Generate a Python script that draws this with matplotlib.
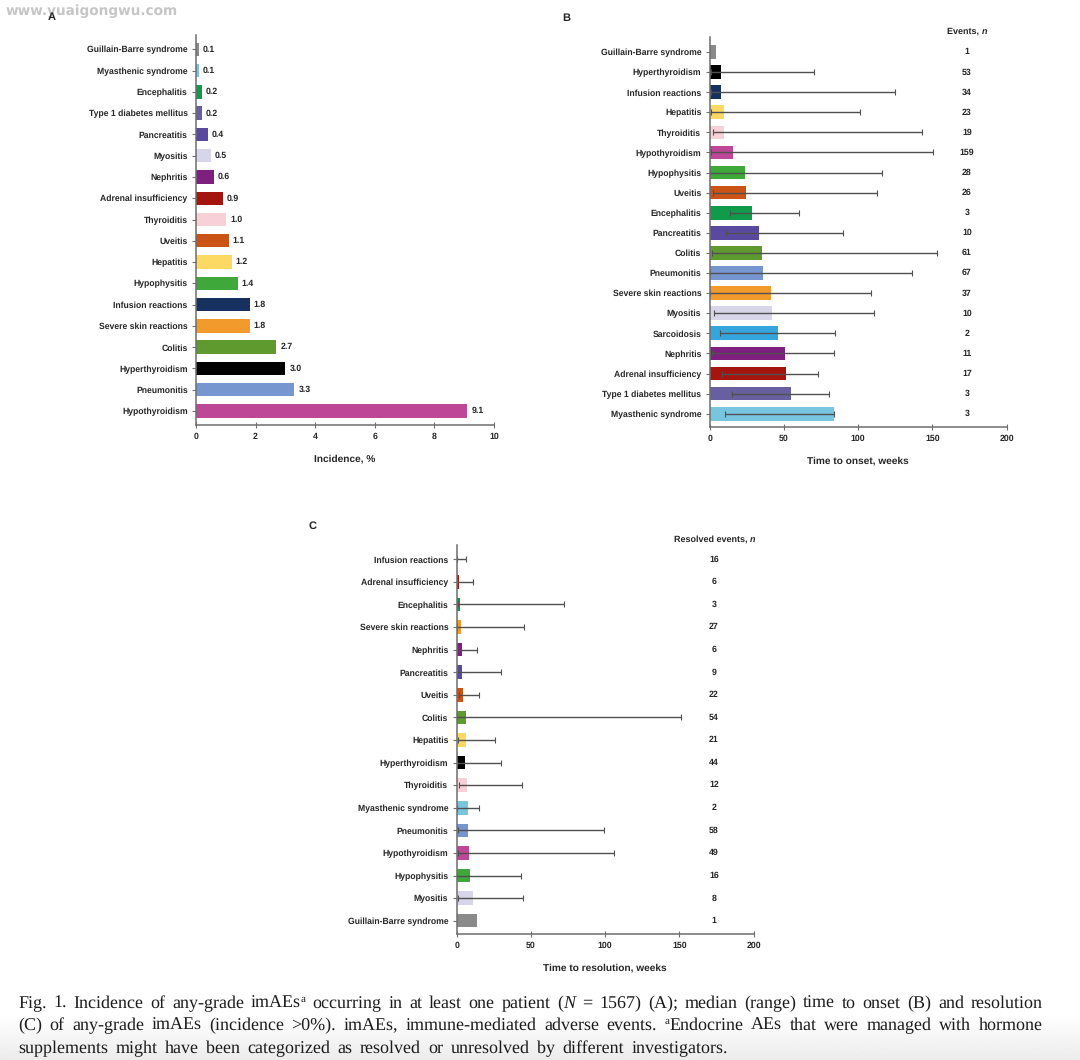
import numpy as np
import matplotlib
matplotlib.use("Agg")
import matplotlib.pyplot as plt

W, H = 1080, 1060
SANS = "Liberation Sans"
SERIF = "Liberation Serif"
TXT = "#262626"
AXC = "#6e6e6e"
FS = 6.35
plt.rcParams["font.family"] = SANS
plt.rcParams["text.hinting"] = "no_hinting"

# ---------- data ----------
a_names = ["Guillain-Barre syndrome", "Myasthenic syndrome", "Encephalitis", "Type 1 diabetes mellitus",
           "Pancreatitis", "Myositis", "Nephritis", "Adrenal insufficiency", "Thyroiditis", "Uveitis",
           "Hepatitis", "Hypophysitis", "Infusion reactions", "Severe skin reactions", "Colitis",
           "Hyperthyroidism", "Pneumonitis", "Hypothyroidism"]
a_values = [0.1, 0.1, 0.2, 0.2, 0.4, 0.5, 0.6, 0.9, 1.0, 1.1, 1.2, 1.4, 1.8, 1.8, 2.7, 3.0, 3.3, 9.1]

b_names = ["Guillain-Barre syndrome", "Hyperthyroidism", "Infusion reactions", "Hepatitis", "Thyroiditis",
           "Hypothyroidism", "Hypophysitis", "Uveitis", "Encephalitis", "Pancreatitis", "Colitis", "Pneumonitis",
           "Severe skin reactions", "Myositis", "Sarcoidosis", "Nephritis", "Adrenal insufficiency",
           "Type 1 diabetes mellitus", "Myasthenic syndrome"]
b_median = [4, 7.4, 7.9, 9.4, 9.4, 16, 23.6, 24.5, 28.3, 33.4, 35, 36, 41.3, 41.8, 45.8, 50.5, 51.6, 55, 83.7]
b_low = [None, 1, 1, 1, 2.5, 1, 0.5, 2, 14, 11, 1.5, 0.3, 0.5, 2.7, 7, 1.8, 8.5, 15, 10.5]
b_high = [None, 70.5, 125, 101, 143, 150.6, 116, 112.5, 60.4, 90, 152.9, 136, 108.4, 110.4, 84.4, 84, 73, 80, 84]
b_events = [1, 53, 34, 23, 19, 159, 28, 26, 3, 10, 61, 67, 37, 10, 2, 11, 17, 3, 3]

c_names = ["Infusion reactions", "Adrenal insufficiency", "Encephalitis", "Severe skin reactions", "Nephritis",
           "Pancreatitis", "Uveitis", "Colitis", "Hepatitis", "Hyperthyroidism", "Thyroiditis",
           "Myasthenic syndrome", "Pneumonitis", "Hypothyroidism", "Hypophysitis", "Myositis",
           "Guillain-Barre syndrome"]
c_median = [0.3, 1.8, 2.5, 3, 3.4, 3.8, 4, 6, 6, 5.9, 6.7, 7.4, 7.9, 8.3, 9, 11, 13.5]
c_low = [0.1, 0.5, 1, 0.3, 1.8, 0.5, 1.5, 0.3, 1, 0.5, 1.8, 0.5, 0.7, 0.7, 0.5, 1, None]
c_high = [6, 10.8, 72.3, 45.6, 14, 30, 15, 151, 26, 30, 44, 15, 99, 105.7, 43, 44.4, None]
c_events = [16, 6, 3, 27, 6, 9, 22, 54, 21, 44, 12, 2, 58, 49, 16, 8, 1]

colors = {
    "Guillain-Barre syndrome": "#8a8a8a", "Myasthenic syndrome": "#78c5e0", "Encephalitis": "#0f9b4a",
    "Type 1 diabetes mellitus": "#675f9f", "Pancreatitis": "#5a4a9f", "Myositis": "#d6d5ea",
    "Nephritis": "#7f1f7f", "Adrenal insufficiency": "#a5150f", "Thyroiditis": "#f7d0d8",
    "Uveitis": "#cc5316", "Hepatitis": "#fbd962", "Hypophysitis": "#3ea93a", "Infusion reactions": "#16305f",
    "Severe skin reactions": "#f39a2d", "Colitis": "#5e9a2e", "Hyperthyroidism": "#000000",
    "Pneumonitis": "#7596cf", "Hypothyroidism": "#bf4797", "Sarcoidosis": "#35a6dd",
}

# ---------- helpers ----------
fig = plt.figure(figsize=(W / 100, H / 100), dpi=100, facecolor="white")


def panel(x0, x1, top, bottom, first, last, n, xmax, xticks, xlabel, labelpad):
    ax = fig.add_axes([x0 / W, 1 - bottom / H, (x1 - x0) / W, (bottom - top) / H])
    step = (last - first) / (n - 1)
    ax.set_xlim(0, xmax)
    ax.set_ylim(n - 1 + (bottom - last) / step, -(first - top) / step)
    for s in ("top", "right"):
        ax.spines[s].set_visible(False)
    for s in ("left", "bottom"):
        ax.spines[s].set_color(AXC)
        ax.spines[s].set_linewidth(1.1)
    ax.set_xticks(xticks)
    ax.tick_params(axis="x", direction="inout", length=4, width=0.8, color=AXC, pad=3.2,
                   labelsize=FS, labelcolor=TXT)
    ax.tick_params(axis="y", direction="out", length=3, width=0.8, color=AXC, pad=3.0,
                   labelsize=6.2, labelcolor=TXT)
    for lab in ax.get_xticklabels():
        lab.set_fontweight("bold")
    ax.set_xlabel(xlabel, fontsize=7.25, fontweight="bold", color=TXT, labelpad=labelpad)
    ax.patch.set_alpha(0)
    return ax


def set_names(ax, names):
    ax.set_yticks(range(len(names)))
    ax.set_yticklabels(names, fontweight="bold")


def range_panel(ax, names, median, low, high, height):
    ys = np.arange(len(names))
    ax.barh(ys, median, height=height, color=[colors[k] for k in names], linewidth=0)
    for y, m, lo, hi in zip(ys, median, low, high):
        if lo is None:
            continue
        ax.errorbar(m, y, xerr=[[m - lo], [hi - m]], fmt="none", ecolor="#505050",
                    elinewidth=1.0, capsize=2.5, capthick=0.8)
    set_names(ax, names)


def count_column(ax, x_frac, values):
    tr = ax.get_yaxis_transform()
    for i, v in enumerate(values):
        ax.text(x_frac, i, str(v), transform=tr, ha="center", va="center",
                fontsize=FS, fontweight="bold", color=TXT)


def px_text(x, y, s, **kw):
    kw.setdefault("va", "center")
    return fig.text(x / W, 1 - y / H, s, **kw)


def pieces(x, y, parts):
    """parts: (string, kwargs); drawn side by side, centred on x."""
    r = fig.canvas.get_renderer()
    arts = [px_text(0, y, s, va="baseline", **kw) for s, kw in parts]
    widths = [a.get_window_extent(r).width for a in arts]
    cur = x - sum(widths) / 2
    for a, w_ in zip(arts, widths):
        a.set_x(cur / W)
        cur += w_


def justified(words, y, x0, x1):
    """words: list of words, each a list of (string, kwargs, raise_px)."""
    r = fig.canvas.get_renderer()
    placed = []
    total = 0
    for word in words:
        arts = [px_text(0, y - rs, s, va="baseline", **kw) for s, kw, rs in word]
        ws = [a.get_window_extent(r).width + 0.4 for a in arts]
        placed.append((arts, ws))
        total += sum(ws)
    gap = (x1 - x0 - total) / (len(words) - 1)
    cur = x0
    for arts, ws in placed:
        for a, w_ in zip(arts, ws):
            a.set_x(cur / W)
            cur += w_
        cur += gap


# ---------- page shading ----------
bg = fig.add_axes([0, 0, 1, 45 / H], zorder=-5)
bg.imshow(np.linspace(1.0, 0.925, 64).reshape(-1, 1), aspect="auto", cmap="gray", vmin=0, vmax=1)
bg.axis("off")

# ---------- panel A ----------
axA = panel(196, 494, 35, 425, 49.3, 411, len(a_names), 10, range(0, 11, 2), "Incidence, %", 9.7)
ysA = np.arange(len(a_names))
barsA = axA.barh(ysA, a_values, height=0.63, color=[colors[k] for k in a_names], linewidth=0)
axA.bar_label(barsA, fmt="%.1f", padding=3, fontsize=FS, fontweight="bold", color=TXT)
set_names(axA, a_names)

# ---------- panel B ----------
axB = panel(709.7, 1006.7, 37, 427, 52, 413.7, len(b_names), 200, range(0, 201, 50), "Time to onset, weeks", 9.5)
range_panel(axB, b_names, b_median, b_low, b_high, 0.68)
count_column(axB, (967 - 709.7) / 297, b_events)

# ---------- panel C ----------
axC = panel(456.7, 753.7, 545, 934, 559.3, 920.7, len(c_names), 200, range(0, 201, 50), "Time to resolution, weeks", 9.5)
range_panel(axC, c_names, c_median, c_low, c_high, 0.6)
count_column(axC, (714 - 456.7) / 297, c_events)

# ---------- headers, letters, watermark ----------
fig.canvas.draw()
hdr = dict(fontsize=6.5, fontweight="bold", color=TXT, family=SANS)
hdr_i = dict(fontsize=6.5, fontweight="bold", fontstyle="italic", color=TXT, family=SANS)
pieces(967, 34, [("Events, ", hdr), ("n", hdr_i)])
pieces(715, 541.5, [("Resolved events, ", hdr), ("n", hdr_i)])
px_text(6, 11, "www.yuaigongwu.com", fontsize=9.8, fontweight="bold", color="#c6c6c6",
        family="DejaVu Sans", ha="left")
for x, y, s in [(52, 17, "A"), (566, 18, "B"), (313, 526, "C")]:
    px_text(x, y, s, ha="center", fontsize=8, fontweight="bold", color=TXT)

# ---------- caption ----------
cap = dict(family=SERIF, fontsize=13.0, color="#1c1c1c")
cap_i = dict(family=SERIF, fontsize=13.0, color="#1c1c1c", fontstyle="italic")
cap_s = dict(family=SERIF, fontsize=8, color="#1c1c1c")


def w(s):
    return [(s, cap, 0)]


line1 = [w(t) for t in "Fig. 1. Incidence of any-grade".split()] + [[("imAEs", cap, 0), ("a", cap_s, 6)]] + \
        [w(t) for t in "occurring in at least one patient".split()] + \
        [[("(", cap, 0), ("N", cap_i, 0)]] + [w(t) for t in "= 1567) (A); median (range) time to onset (B) and resolution".split()]
line2 = [w(t) for t in "(C) of any-grade imAEs (incidence >0%). imAEs, immune-mediated adverse events.".split()] + \
        [[("a", cap_s, 6), ("Endocrine", cap, 0)]] + [w(t) for t in "AEs that were managed with hormone".split()]
line3 = [w(t) for t in "supplements might have been categorized as resolved or unresolved by different investigators.".split()]
justified(line1, 1008, 18, 1043)
justified(line2, 1030, 18, 1043)
justified(line3, 1053, 18, 728)

fig.savefig("out.png", dpi=100)
